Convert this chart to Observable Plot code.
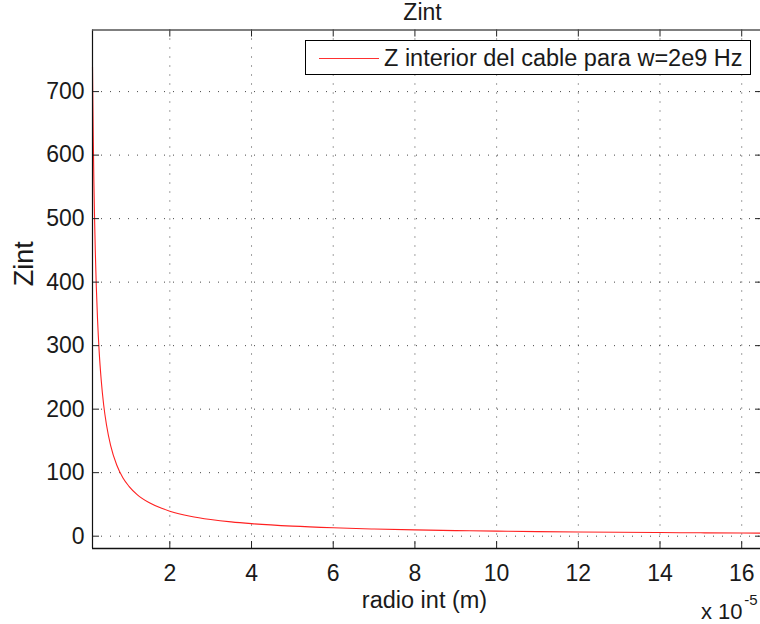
<!DOCTYPE html>
<html>
<head>
<meta charset="utf-8">
<script src="https://cdn.jsdelivr.net/npm/d3@7"></script>
<script src="https://cdn.jsdelivr.net/npm/@observablehq/plot@0.6"></script>
<style>
  body { margin: 0; background: #fff; }
  #wrap { position: relative; width: 760px; height: 624px; font-family: "Liberation Sans", Arial, Helvetica, sans-serif; }
  #legend { position: absolute; left: 305px; top: 40px; width: 444px; height: 33px; border: 1px solid #000; background: #fff; box-sizing: content-box; }
  #legend .swatch { position: absolute; left: 13px; top: 16.5px; width: 60px; height: 0; border-top: 1.2px solid #ff3030; }
  #legend .txt { position: absolute; left: 78px; top: 3px; font-size: 23.5px; line-height: 28px; color: #1a1a1a; white-space: nowrap; }
</style>
</head>
<body>
<div id="wrap"></div>
<script>
// radius of the inner conductor, in units of 1e-5 m
const radius = [0.107, 0.115, 0.125, 0.14, 0.155, 0.175, 0.2, 0.23, 0.27, 0.32, 0.38, 0.45, 0.55, 0.7, 0.85, 1.0, 1.2, 1.5, 1.8, 2.0, 2.5, 3.0, 3.5, 4.0, 5.0, 6.0, 7.0, 8.0, 9.0, 10, 11, 12, 13, 14, 15, 16, 16.5];
// internal impedance Zint
const zint = [739, 688, 632, 562, 508, 450, 393, 342, 291, 246, 207, 175, 143, 112, 92, 78.5, 65.5, 52.5, 43.8, 39.4, 31.5, 26.3, 22.5, 19.7, 15.8, 13.2, 11.3, 9.9, 8.8, 7.9, 7.2, 6.6, 6.1, 5.7, 5.3, 5.0, 4.8];
const xTicks = [2, 4, 6, 8, 10, 12, 14, 16];
const yTicks = [0, 100, 200, 300, 400, 500, 600, 700];
const xDomain = [0.107, 16.46];
const yDomain = [-19.4, 797];
const titleText = "Zint";
const xLabel = "radio int (m)";
const yLabel = "Zint";
const legendText = "Z interior del cable para w=2e9 Hz";

const data = radius.map((r, i) => ({r, z: zint[i]}));

const W = 760, H = 624, mL = 92, mR = 0, mT = 29.5, mB = 76;
const pw = W - mL - mR, ph = H - mT - mB;
const tickLen = 7;
const gridStyle = {stroke: "#333", strokeOpacity: 0.9, strokeWidth: 1, strokeDasharray: "1,8"};
const ink = "#1a1a1a";

const plot = Plot.plot({
  width: W, height: H,
  marginLeft: mL, marginRight: mR, marginTop: mT, marginBottom: mB,
  style: {fontFamily: "'Liberation Sans', Arial, Helvetica, sans-serif", color: ink, background: "#fff"},
  x: {domain: xDomain, axis: null},
  y: {domain: yDomain, axis: null},
  marks: [
    Plot.gridX(xTicks, gridStyle),
    Plot.gridY(yTicks, gridStyle),
    Plot.line(data, {x: "r", y: "z", stroke: "#ff2020", strokeWidth: 1.1, curve: "monotone-x"}),
    // inward tick marks
    Plot.ruleX(xTicks, {x: d => d, insetTop: ph - tickLen, stroke: "#222"}),
    Plot.ruleX(xTicks, {x: d => d, insetBottom: ph - tickLen, stroke: "#222"}),
    Plot.ruleY(yTicks, {y: d => d, insetRight: pw - tickLen, stroke: "#222"}),
    Plot.ruleY(yTicks, {y: d => d, insetLeft: pw - 5, stroke: "#222"}),
    // box lines
    Plot.ruleX([xDomain[0]], {stroke: "#111", strokeWidth: 1.2}),
    Plot.ruleY([yDomain[0]], {stroke: "#111", strokeWidth: 1.6}),
    Plot.ruleY([yDomain[1]], {stroke: "#555", strokeWidth: 1.6}),
    // tick labels
    Plot.text(xTicks, {x: d => d, frameAnchor: "bottom", dy: 16, lineAnchor: "top", fontSize: 23, fill: ink}),
    Plot.text(yTicks, {y: d => d, frameAnchor: "left", dx: -8, textAnchor: "end", fontSize: 23, fill: ink}),
    Plot.text([titleText], {frameAnchor: "top", dx: -4, dy: -10.5, lineAnchor: "bottom", fontSize: 23, fill: ink}),
    Plot.text([xLabel], {frameAnchor: "bottom", dx: -2, dy: 59, lineAnchor: "bottom", fontSize: 23.5, fill: ink}),
    Plot.text([yLabel], {frameAnchor: "left", rotate: -90, dx: -68, dy: -3, fontSize: 27, fill: ink}),
    Plot.text(["x 10"], {frameAnchor: "bottom-right", dx: -18, dy: 70, textAnchor: "end", lineAnchor: "bottom", fontSize: 22, fill: ink}),
    Plot.text(["-5"], {frameAnchor: "bottom-right", dx: -3, dy: 56, textAnchor: "end", lineAnchor: "bottom", fontSize: 15, fill: ink})
  ]
});

const wrap = document.getElementById("wrap");
wrap.appendChild(plot);
const leg = document.createElement("div");
leg.id = "legend";
leg.innerHTML = '<div class="swatch"></div><div class="txt"></div>';
leg.querySelector(".txt").textContent = legendText;
wrap.appendChild(leg);
</script>
</body>
</html>
